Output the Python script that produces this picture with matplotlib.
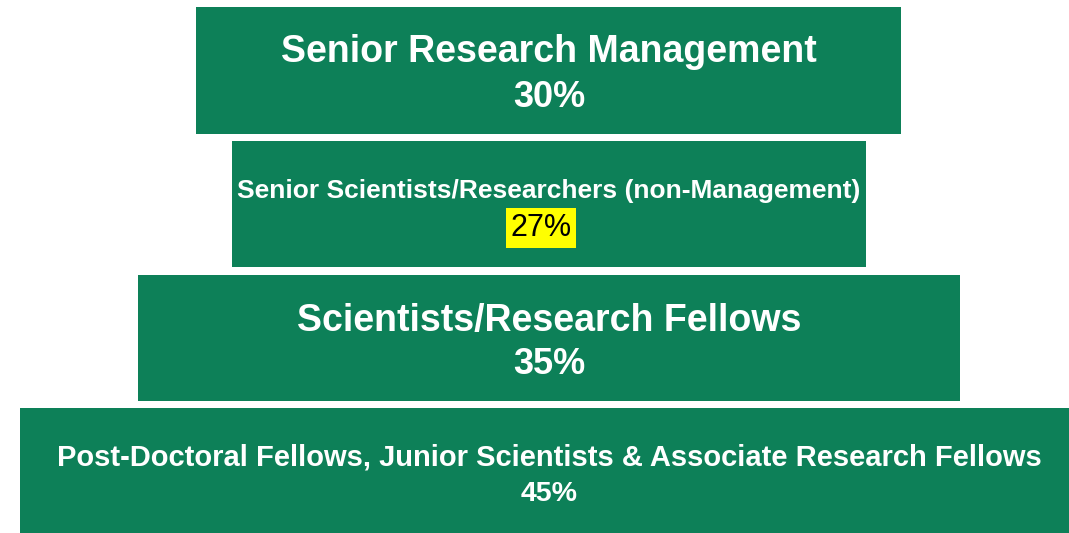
import matplotlib.pyplot as plt

plt.rcParams['font.family'] = ['Liberation Sans', 'DejaVu Sans']

levels = ['Senior Research Management',
          'Senior Scientists/Researchers (non-Management)',
          'Scientists/Research Fellows',
          'Post-Doctoral Fellows, Junior Scientists & Associate Research Fellows']
pcts = [30, 27, 35, 45]

green = '#0d8058'
label_size = [27, 19, 27, 21]
pct_size = [26, 22, 26, 20.5]
# baseline offsets from bar centre
label_dy = [-0.064, -0.045, -0.049, -0.045]
pct_dy = [0.273, 0.24, 0.273, 0.225]

fig = plt.figure(figsize=(10.69, 5.33), dpi=100)
ax = fig.add_axes([0, 0, 1, 1])

ypos = list(range(len(pcts)))
ax.barh(ypos, pcts, left=[-p / 2 for p in pcts], height=0.944, color=green)

for i, (lab, p) in enumerate(zip(levels, pcts)):
    ax.text(0, i + label_dy[i], lab, ha='center', va='baseline', color='white',
            fontsize=label_size[i], fontweight='bold')
    if i == 1:
        # highlighted value, sits a little left of centre
        ax.text(-0.34, i + pct_dy[i], f'{p}%', ha='center', va='baseline', color='black',
                fontsize=pct_size[i],
                bbox=dict(facecolor='#ffff00', edgecolor='none', pad=3.5))
    else:
        ax.text(0, i + pct_dy[i], f'{p}%', ha='center', va='baseline', color='white',
                fontsize=pct_size[i], fontweight='bold')

ax.set_xlim(-549 / 23.5, (1069 - 549) / 23.5)
ax.set_ylim(3.464, -0.528)
ax.axis('off')

plt.savefig('out.png', dpi=100)
